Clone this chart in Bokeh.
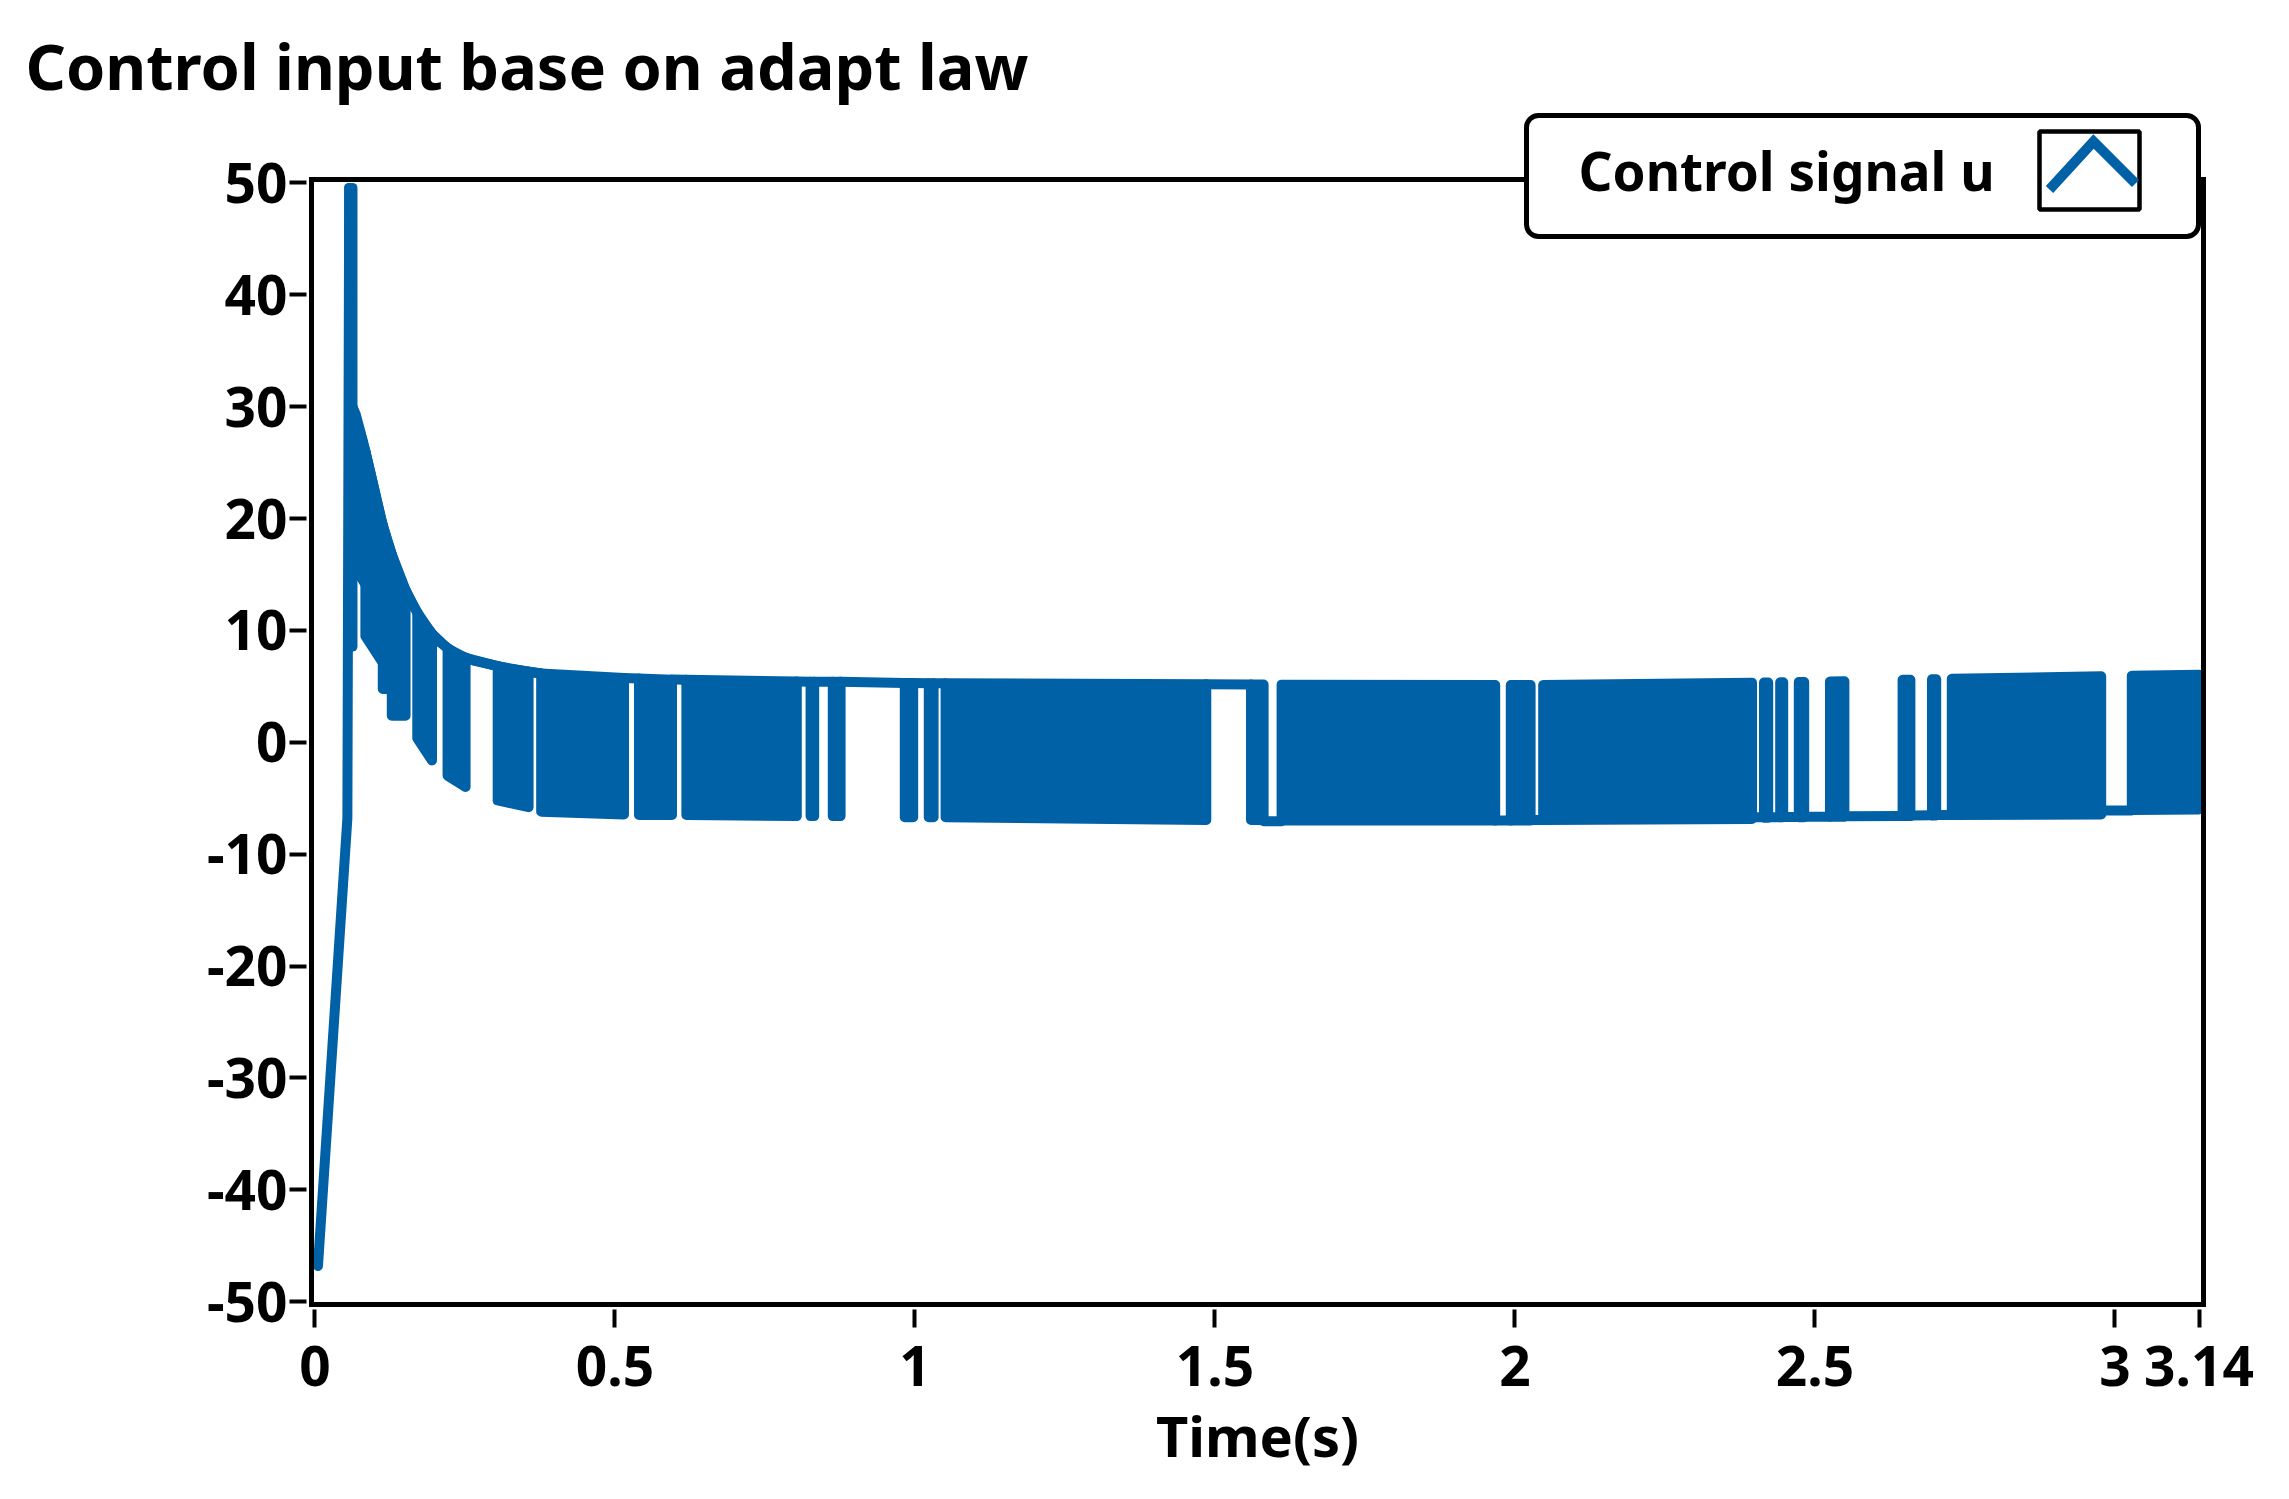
from bokeh.plotting import figure
from bokeh.models import Range1d, FixedTicker, Label, BoxAnnotation, PolyAnnotation
from bokeh.embed import file_html
from bokeh.resources import INLINE

TITLE = "Control input base on adapt law"
X_LABEL = "Time(s)"
SERIES_NAME = "Control signal u"

x_ticks = [0, 0.5, 1, 1.5, 2, 2.5, 3, 3.14]
x_tick_labels = ["0", "0.5", "1", "1.5", "2", "2.5", "3", "3.14"]
y_ticks = [50, 40, 30, 20, 10, 0, -10, -20, -30, -40, -50]
y_tick_labels = ["50", "40", "30", "20", "10", "0", "-10", "-20", "-30", "-40", "-50"]

# axis extents of the plot box
x_min, x_max = -0.0058, 3.1475
y_min, y_max = -50.25, 50.3

# initial ramp and jump of u (s, value)
ramp_t = [0.005, 0.054, 0.057]
ramp_u = [-46.8, -6.8, 49.55]

# decaying upper level of u during the first chattering phase
decay_t = [0.064, 0.068, 0.080, 0.092, 0.101, 0.110, 0.120, 0.137, 0.149, 0.165,
           0.182, 0.205, 0.235, 0.2645, 0.321, 0.377]
decay_u = [29.8, 29.3, 26.9, 24.2, 22.1, 20.0, 18.1, 15.3, 13.8, 12.1,
           10.6, 9.05, 7.9, 7.3, 6.6, 6.15]

# switching segments: c = chattering between high and low level,
# h = held at high level, l = held at low level
seg_t0 = [0.057, 0.0625, 0.084, 0.113, 0.128, 0.151, 0.1705, 0.195, 0.221, 0.251,
          0.3045, 0.356, 0.377, 0.515, 0.540, 0.595, 0.619, 0.803, 0.826, 0.832,
          0.863, 0.876, 0.983, 0.997, 1.023, 1.031, 1.051, 1.4855, 1.560, 1.581,
          1.611, 1.967, 1.993, 2.026, 2.047, 2.395, 2.415, 2.422, 2.442, 2.447,
          2.473, 2.482, 2.525, 2.549, 2.646, 2.659, 2.695, 2.702, 2.728, 2.977,
          3.028]
seg_t1 = [0.0625, 0.084, 0.113, 0.128, 0.151, 0.1705, 0.195, 0.221, 0.251, 0.3045,
          0.356, 0.377, 0.515, 0.540, 0.595, 0.619, 0.803, 0.826, 0.832, 0.863,
          0.876, 0.983, 0.997, 1.023, 1.031, 1.051, 1.4855, 1.560, 1.581, 1.611,
          1.967, 1.993, 2.026, 2.047, 2.395, 2.415, 2.422, 2.442, 2.447, 2.473,
          2.482, 2.525, 2.549, 2.646, 2.659, 2.695, 2.702, 2.728, 2.977, 3.028,
          3.14]
seg_mode = ["c", "c", "c", "c", "c", "h", "c", "h", "c", "h",
            "c", "h", "c", "h", "c", "h", "c", "h", "c", "h",
            "c", "h", "c", "h", "c", "h", "c", "h", "c", "l",
            "c", "l", "c", "l", "c", "l", "c", "l", "c", "l",
            "c", "l", "c", "l", "c", "l", "c", "l", "c", "l",
            "c"]
seg_hi0 = [49.55, 30.0, 26.0, 19.4, 16.8, 13.6, 11.6, 9.7, 8.4, 7.55,
           6.8, 6.3, 6.15, 5.75, 5.7, 5.6, 5.58, 5.43, 5.42, 5.42,
           5.4, 5.4, 5.3, 5.3, 5.28, 5.28, 5.27, 5.18, 5.17, None,
           5.15, None, 5.12, None, 5.12, None, 5.34, None, 5.36, None,
           5.38, None, 5.43, None, 5.58, None, 5.63, None, 5.67, None,
           5.94]
seg_hi1 = [49.55, 26.0, 19.4, 16.8, 13.6, 11.6, 9.7, 8.4, 7.55, 6.8,
           6.3, 6.15, 5.75, 5.7, 5.6, 5.58, 5.43, 5.42, 5.42, 5.4,
           5.4, 5.3, 5.3, 5.28, 5.28, 5.27, 5.18, 5.17, 5.17, None,
           5.12, None, 5.12, None, 5.33, None, 5.34, None, 5.36, None,
           5.38, None, 5.45, None, 5.59, None, 5.63, None, 5.9, None,
           6.03]
seg_lo0 = [8.55, 16.0, 9.5, 4.77, 2.38, None, 0.37, None, -3.0, None,
           -5.2, None, -6.2, None, -6.5, None, -6.5, None, -6.6, None,
           -6.6, None, -6.7, None, -6.7, None, -6.7, None, -6.95, -7.05,
           -7.0, -7.0, -7.0, -6.95, -6.95, -6.7, -6.75, -6.7, -6.7, -6.68,
           -6.7, -6.66, -6.66, -6.62, -6.6, -6.55, -6.55, -6.5, -6.5, -6.1,
           -6.05]
seg_lo1 = [8.55, 14.1, 7.1, 4.77, 2.38, None, -1.62, None, -4.0, None,
           -5.8, None, -6.45, None, -6.5, None, -6.6, None, -6.6, None,
           -6.6, None, -6.7, None, -6.7, None, -6.95, None, -6.95, -7.05,
           -7.0, -7.0, -7.0, -6.95, -6.85, -6.7, -6.75, -6.7, -6.7, -6.68,
           -6.7, -6.66, -6.66, -6.6, -6.6, -6.52, -6.55, -6.5, -6.45, -6.1,
           -6.0]

BLUE = "#0061A6"
FONT = "Noto Sans"
LW = 10

# frame slightly larger than the drawn plot box so the box line is not clipped
FW, FH = 1902, 1199
PX_X = (FW - 10) / (x_max - x_min)
PX_Y = 1125 / (y_max - y_min)
xr = Range1d(x_min - 5 / PX_X, x_max + 5 / PX_X)
yr = Range1d(y_min - 5 / PX_Y, y_max + 69 / PX_Y)

p = figure(frame_width=FW, frame_height=FH,
           min_border_left=306, min_border_right=55,
           min_border_top=110, min_border_bottom=165,
           x_range=xr, y_range=yr,
           output_backend="svg", toolbar_location=None,
           background_fill_color="white", border_fill_color="white")

p.outline_line_color = None
p.grid.visible = False

p.title.text = TITLE
p.title.text_font = FONT
p.title.text_font_style = "bold"
p.title.text_font_size = "63px"
p.title.text_color = "black"
p.title.align = "left"
p.title.offset = -281
p.title.standoff = 5

cx, cy, hx, hy, lx, ly = [], [], [], [], [], []
for t0, t1, m, h0, h1, l0, l1 in zip(seg_t0, seg_t1, seg_mode, seg_hi0, seg_hi1, seg_lo0, seg_lo1):
    if m == "c":
        cx.append([t0, t0, t1, t1])
        cy.append([l0, h0, h1, l1])
    elif m == "h":
        hx.append([t0, t1])
        hy.append([h0, h1])
    else:
        lx.append([t0, t1])
        ly.append([l0, l1])

p.patches(cx, cy, fill_color=BLUE, line_color=BLUE, line_width=LW, line_join="round")
p.multi_line(hx, hy, line_color=BLUE, line_width=LW, line_cap="round")
p.multi_line(lx, ly, line_color=BLUE, line_width=LW, line_cap="round")
p.line(decay_t, decay_u, line_color=BLUE, line_width=LW, line_join="round", line_cap="round")
p.line(ramp_t, ramp_u, line_color=BLUE, line_width=LW, line_join="round", line_cap="round")

# plot box
p.add_layout(BoxAnnotation(left=x_min, right=x_max, bottom=y_min, top=y_max,
                           fill_alpha=0.0, line_color="black", line_alpha=1.0,
                           line_width=5, line_join="miter"))

for ax in (p.xaxis[0], p.yaxis[0]):
    ax.axis_line_color = None
    ax.major_tick_line_color = "black"
    ax.major_tick_line_width = 4
    ax.minor_tick_line_color = None
    ax.major_tick_in = 0
    ax.major_label_text_font = FONT
    ax.major_label_text_font_style = "bold"
    ax.major_label_text_font_size = "55px"
    ax.major_label_text_color = "black"

p.xaxis.ticker = FixedTicker(ticks=x_ticks)
p.xaxis.major_label_overrides = {t: s for t, s in zip(x_ticks, x_tick_labels)}
p.xaxis.major_tick_out = 18
p.xaxis.major_label_standoff = 18
p.xaxis.axis_label = X_LABEL
p.xaxis.axis_label_text_font = FONT
p.xaxis.axis_label_text_font_style = "bold"
p.xaxis.axis_label_text_font_size = "56px"
p.xaxis.axis_label_text_color = "black"
p.xaxis.axis_label_standoff = 8

p.yaxis.ticker = FixedTicker(ticks=y_ticks)
p.yaxis.major_label_overrides = {t: s for t, s in zip(y_ticks, y_tick_labels)}
p.yaxis.major_tick_out = 17
p.yaxis.major_label_standoff = 2

# legend (screen units relative to the frame's bottom-left corner)
p.add_layout(BoxAnnotation(left=1220, right=1892, top=1194, bottom=1073,
                           left_units="screen", right_units="screen",
                           top_units="screen", bottom_units="screen",
                           fill_color="white", fill_alpha=1.0,
                           line_color="black", line_alpha=1.0, line_width=5,
                           border_radius=12, level="overlay"))
p.add_layout(BoxAnnotation(left=1733, right=1833, top=1178, bottom=1100,
                           left_units="screen", right_units="screen",
                           top_units="screen", bottom_units="screen",
                           fill_color="white", fill_alpha=1.0,
                           line_color="black", line_alpha=1.0, line_width=4.5,
                           level="overlay"))
p.add_layout(PolyAnnotation(xs=[1743, 1787, 1829, 1787], ys=[1120, 1168, 1126, 1168],
                            xs_units="screen", ys_units="screen",
                            fill_alpha=0.0, line_color=BLUE, line_alpha=1.0,
                            line_width=LW, line_join="miter", level="overlay"))
p.add_layout(Label(x=1272, y=1139, x_units="screen", y_units="screen", text=SERIES_NAME,
                   text_font=FONT, text_font_style="bold", text_font_size="53px",
                   text_color="black", text_align="left", text_baseline="alphabetic",
                   level="overlay"))

open("out.html", "w").write(file_html(p, INLINE))
